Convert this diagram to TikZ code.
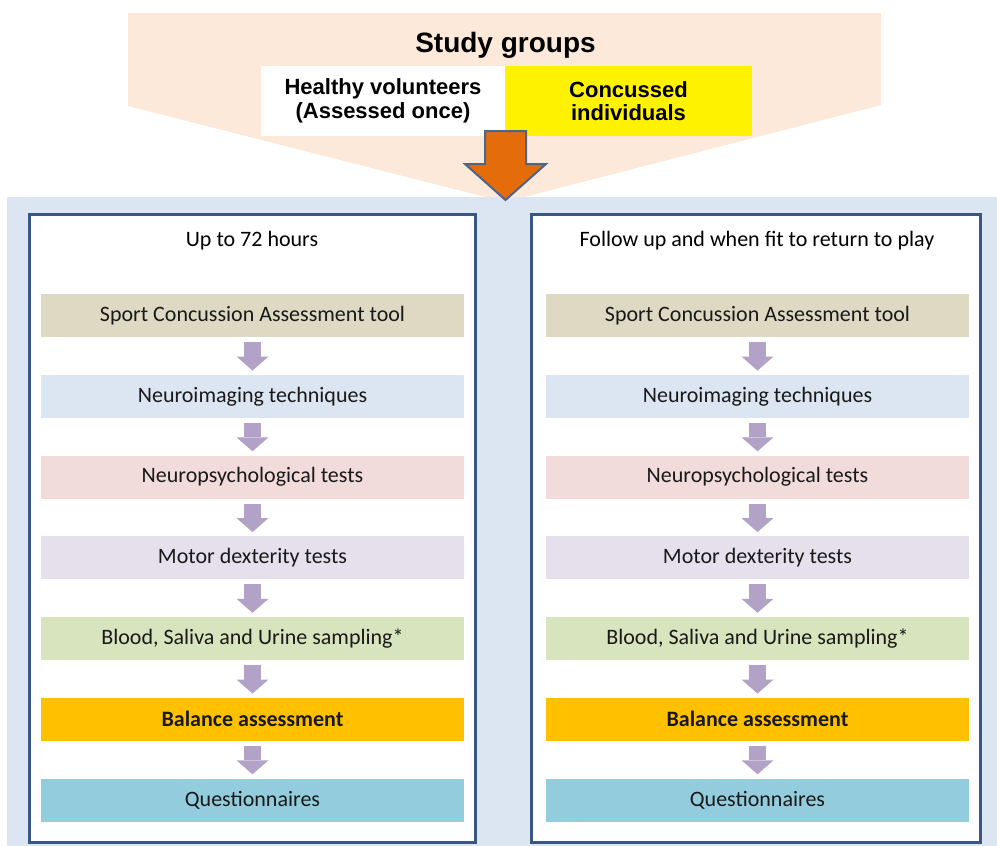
\documentclass[tikz,border=0pt]{standalone}
\usepackage{fontspec}
\setmainfont{Carlito}
\newfontfamily\headfont{Liberation Sans}
\usetikzlibrary{arrows.meta,calc}

\definecolor{peach}{HTML}{FDE9D9}
\definecolor{bgblue}{HTML}{DCE6F2}
\definecolor{framenavy}{HTML}{385883}
\definecolor{arrowlilac}{HTML}{B3A2C7}
\definecolor{bigorange}{HTML}{E46C0A}
\definecolor{bigedge}{HTML}{4F6584}
\definecolor{scat}{HTML}{DDD9C3}
\definecolor{neuro}{HTML}{DCE6F2}
\definecolor{psych}{HTML}{F2DCDB}
\definecolor{motor}{HTML}{E5E0EC}
\definecolor{blood}{HTML}{D7E4BD}
\definecolor{balance}{HTML}{FFC000}
\definecolor{quest}{HTML}{93CDDD}

\tikzset{
  stepbox/.style={minimum width=423pt, minimum height=43pt, inner sep=0pt,
    text=black!90, font=\fontsize{22}{24}\selectfont},
  groupbox/.style={minimum width=244pt, minimum height=70pt, inner sep=0pt, align=center,
    font=\headfont\bfseries\fontsize{22}{23.5}\selectfont},
  steparrow/.style={draw=arrowlilac, line width=17pt,
    -{Triangle[width=32pt,length=14pt,line width=0pt]}, shorten <=5pt, shorten >=4pt},
  panel/.style={draw=framenavy, fill=white, line width=3pt},
}

\begin{document}
\begin{tikzpicture}[x=1pt, y=-1pt]
  \useasboundingbox (0,0) rectangle (997,846);

  % study groups banner
  \fill[peach] (128,13) -- (881,13) -- (881,105) -- (505,202) -- (128,106) -- cycle;
  \node[font=\headfont\bfseries\fontsize{28}{30}\selectfont] (title) at (505.5,45) {Study groups};
  \node[groupbox, fill=white] (healthy) at (383,101) {Healthy volunteers\\(Assessed once)};
  \node[groupbox, fill=yellow, minimum width=247pt] (concussed) at (628.5,101) {Concussed\\individuals};

  % background and the two panels
  \fill[bgblue] (7,197) rectangle (997,846);
  \draw[panel] (29,214) rectangle (475,842);
  \draw[panel] (531,214) rectangle (980,842);

  \node[font=\fontsize{22}{24}\selectfont] (lefthead) at (252,241) {Up to 72 hours};
  \node[font=\fontsize{22}{24}\selectfont] (righthead) at (757,241) {Follow up and when fit to return to play};

  % assessment steps
  \foreach \i/\col/\txt in {1/scat/{Sport Concussion Assessment tool},
                            2/neuro/{Neuroimaging techniques},
                            3/psych/{Neuropsychological tests},
                            4/motor/{Motor dexterity tests},
                            5/blood/{Blood, Saliva and Urine sampling*},
                            6/balance/{\bfseries Balance assessment},
                            7/quest/{Questionnaires}}{
    \node[stepbox, fill=\col] (l\i) at (252.5,{315.5+80.75*(\i-1)}) {\txt};
    \node[stepbox, fill=\col] (r\i) at (757.5,{315.5+80.75*(\i-1)}) {\txt};
  }

  \foreach \i [evaluate=\i as \j using int(\i+1)] in {1,...,6}{
    \draw[steparrow] (l\i) -- (l\j);
    \draw[steparrow] (r\i) -- (r\j);
  }

  % big arrow into the panels
  \coordinate (apex) at (505.5,200);
  \draw[fill=bigorange, draw=bigedge, line width=2pt, line join=miter]
    ($(apex)+(-20.5,-69)$) -- ++(41,0) -- ++(0,33) -- ++(20,0) -- (apex)
    -- ++(-40.5,-36) -- ++(20,0) -- cycle;
\end{tikzpicture}
\end{document}
